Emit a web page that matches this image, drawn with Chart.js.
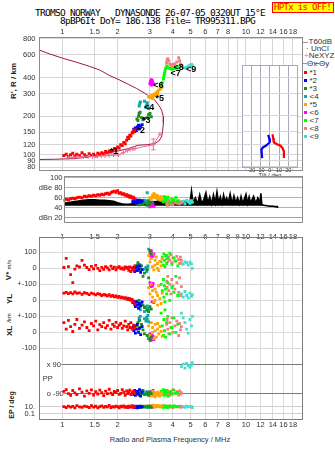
<!DOCTYPE html>
<html><head><meta charset="utf-8">
<script src="https://cdn.jsdelivr.net/npm/chart.js@4.4.1/dist/chart.umd.min.js"></script>
<style>
html,body{margin:0;padding:0;background:#fff;}
body{width:335px;height:451px;position:relative;overflow:hidden;font-family:"Liberation Sans",Arial,sans-serif;}
canvas{position:absolute;left:0;top:0;}
.t{position:absolute;white-space:pre;color:#333;line-height:9px;font-size:7.5px;}
.mono{font-family:"DejaVu Sans Mono",monospace;font-size:9.5px;letter-spacing:-0.72px;color:#000;}
.rot{transform:translate(-50%,-50%) rotate(-90deg);font-weight:bold;font-size:8px;color:#222;}
.lgt{font-size:8px;color:#333;}
.box{position:absolute;}
</style></head><body>
<div class="t mono" style="left:35px;top:8px">TROMSO NORWAY   DYNASONDE 26-07-05 0320UT 15°E</div>
<div class="t mono" style="left:60px;top:16px">8pBP6It DoY= 186.138 File= TR995311.BPG</div>
<div class="t mono" style="left:271.5px;top:1.5px;width:60px;height:9px;border:1px solid #ff0000;background:#ffff00;color:#ff0000;font-size:9px;letter-spacing:-0.67px;text-align:center;line-height:9px">HPTx is OFF!</div>

<div class="t rot" style="left:13px;top:81px">R', R / km</div>
<div class="t rot" style="left:9px;top:270px">V* <span style="font-size:6px;font-weight:normal">m/s</span></div>
<div class="t rot" style="left:9px;top:299px">YL</div>
<div class="t rot" style="left:9px;top:318px;font-size:6px;font-weight:normal">/km</div>
<div class="t rot" style="left:9px;top:331px">XL</div>
<div class="t rot" style="left:11px;top:405px;font-size:7px">EP / deg</div>
<div class="t" style="left:170px;top:434.6px;transform:translateX(-50%);font-size:7.5px">Radio and Plasma Frequency / MHz</div>
<div class="t" style="left:270px;top:171.6px;transform:translateX(-50%);font-size:6px;line-height:7px">Tilt / deg</div>
<div id="legend"></div>

<script>
// ---------- axis ticks ----------
const FREQ_TICKS = [1, 1.5, 2, 3, 4, 5, 6, 7, 8, 9, 10, 12, 14, 16, 18];
const FREQ_LABELS_EDGE = ['1', '1.5', '2', '3', '4', '5', '6', '7', '8', '', '10', '12', '14', '16', '18'];
const FREQ_LABELS_MID = ['1', '1.5', '2', '3', '4', '5', '6', '7', '8', '9', '10', '12', '14', '16', '18'];
const HEIGHT_TICKS = [80, 90, 100, 120, 150, 200, 300, 400, 600, 800];
const DBE_TICKS = [100, 80, 60, 40, 20];
const DBE_LABELS = ['100', 'dBe 80', '60', '40', 'dBn 20'];
const TILT_TICKS = [-20, -10, 0, 10, 20];
const V_TICKS = [100, 0], V_LABELS = ['100', '0'];
const YL_TICKS = [100, 0], YL_LABELS = ['+-100', '0'];
const XL_TICKS = [100, 0, -100], XL_LABELS = ['+-100', '0', '-100'];
const POL_TICKS = [90, -90], POL_LABELS = ['x 90', 'o -90'];
const PP_TICKS = [0], PP_LABELS = ['PP'];
const EP_TICKS = [10, 0.1], EP_LABELS = ['10.', '0.1'];

// ---------- profile & NeXYZ ----------
const PROFILE_F = [0.749,0.85,1.01,1.2,1.4,1.6,1.82,2.06,2.3,2.54,2.82,3.0,3.19,3.4,3.47,3.55,3.55,3.52,3.47,3.35,3.19,2.9,2.59,2.29,2.0,1.71,1.39,1.17,0.91,0.749];
const PROFILE_H = [656,612,565,526,490,458,413,382,353,329,301,283,267,236,223,198,176,155,138,128,122.6,120,118.8,112,107,102.4,96.3,93.5,92.4,92];
const NE_F = [1.08,1.15,1.22,1.3,1.38,1.46,1.55,1.63,1.71,1.8,1.9,2.02,2.15,2.26,2.34,2.42,2.49,3.13,3.4];
const NE_H = [96,96,96.5,96.5,97,97,97.5,98,98.5,99,99.5,100,104,108,110,111,112,120,145];
const NE_ERR_F = [3.13, 3.13];
const NE_ERR_H = [109.5, 133];

// ---------- tilt inset ----------
const TILT_RED_T = [2.9,3.6,4.3,7.2,11.6,13.8,15.2,15.2];
const TILT_RED_H = [144,134,124.5,121,117,112,106,93.7];
const TILT_BLUE_T = [-1.8,-0.7,0,-4.3,-7.2,-9.1,-8.3];
const TILT_BLUE_H = [142.5,134,124.5,117,114,109.5,93.7];

// ---------- echoes ----------
const ECHO_NAMES = ['*1','*2','*3','<4','*5','<6','<7','<8','<9'];
const ECHO_COLORS = ['#ff0000','#0000ff','#1e8c1e','#10a8a8','#ffa500','#ff00ff','#00ff00','#f08080','#40e0d0'];
const LABEL_F = [1.91,2.67,2.86,2.97,3.39,3.33,4.14,4.30,5.02];
const LABEL_H = [107,155,185,235,276,345,429,483,464];

const FREQ = [
  [1.02,1.05,1.08,1.11,1.14,1.17,1.2,1.24,1.28,1.32,1.36,1.4,1.44,1.48,1.52,1.56,1.6,1.64,1.68,1.72,1.76,1.8,1.84,1.88,1.92,1.96,2.0,2.04,2.08,2.12,2.16,2.2,2.24,2.27,2.3,2.33,2.36,2.4,2.44,2.48],
  [2.42,2.45,2.48,2.5,2.53,2.56,2.6,2.63,2.67,2.72],
  [2.55,2.58,2.6,2.62,2.65,2.7,2.75,2.8,2.9,2.95,3.0,3.05],
  [2.62,2.64,2.66,2.8,2.85,2.88,2.9,2.92,2.95],
  [2.95,3.0,3.05,3.1,3.1,3.15,3.2,3.2,3.25,3.3,3.3,3.35,3.4,3.45,3.5],
  [3.0,3.02,3.05,3.08,3.1,3.12,3.15,3.05],
  [3.45,3.5,3.55,3.57,3.6,3.62,3.65,3.7,3.75,3.85,3.95,4.05,4.15,4.25],
  [3.7,3.72,3.75,3.8,3.85,3.9,3.95,4.0,4.1,4.2,4.3,4.35,4.4,4.45],
  [4.45,4.55,4.65,4.75,4.85,4.95,5.05,5.1]
];
const HEIGHT = [
  [99,101,97,100,103,98,101,99,104,100,97,102,99,101,98,103,101,104,102,106,104,107,105,108,112,110,115,113,120,118,125,122,130,137,134,142,140,148,152,156],
  [150,158,153,162,155,165,170,160,168,172],
  [190,185,200,210,215,195,188,192,195,205,210,198],
  [240,250,258,262,235,245,255,238,230],
  [285,280,290,275,283,295,288,300,305,298,310,318,325,330,340],
  [360,375,385,380,370,360,355,350],
  [345,365,390,410,430,450,470,490,480,470,465,470,475,480],
  [520,545,560,540,510,500,480,505,510,530,570,540,510,495],
  [490,480,475,480,490,500,505,495]
];
const DBE = [
  [55,57,56,58,59,58,60,61,60,63,62,64,63,65,64,66,65,67,66,68,69,67,70,72,73,71,74,69,70,67,68,65,66,63,64,61,63,60,61,58],
  [52,55,53,56,54,50,55,53,51,54],
  [50,48,52,46,55,53,47,50,45,52,48,50],
  [50,52,48,55,53,50,70,54,51],
  [55,60,58,65,62,68,60,66,63,58,64,60,56,62,58],
  [42,45,48,44,50,46,43,47],
  [55,58,52,60,62,56,54,59,61,50,57,55,60,53],
  [48,52,45,55,50,47,53,46,51,49,54,48,52,50],
  [50,53,48,55,52,49,54,51]
];
const VSTAR = [
  [5,62,10,-40,-90,-5,15,8,50,20,5,-8,12,-3,18,0,-15,6,-6,10,3,-10,14,-2,7,-9,4,11,-4,2,-7,9,-1,5,-12,8,-20,3,-6,15],
  [-10,5,-20,0,10,-15,-5,15,-25,-8],
  [20,35,10,25,0,15,-50,-30,-10,-60,110,90],
  [10,-15,20,-5,5,-20,0,15,120],
  [80,40,60,10,90,-10,50,20,70,0,30,-15,45,15,60],
  [100,85,70,95,80,75,90,110],
  [40,70,20,90,50,10,80,30,60,95,25,65,45,15],
  [60,80,40,70,50,85,35,65,45,75,55,30,70,50],
  [30,25,40,35,20,38,28,0]
];
const YLOC = [
  [45,50,42,48,40,52,44,46,38,47,43,36,45,40,34,42,38,30,36,33,28,35,25,30,22,27,18,24,15,20,12,16,8,14,5,10,0,6,-10,-25],
  [-15,-5,-25,-40,-10,-30,-50,-20,-35,-10],
  [-5,-15,-25,0,-35,-20,-30,-45,-60,-70,-40,-55],
  [-30,-45,-60,-70,-40,-55,-35,-65,-50],
  [80,40,100,20,60,-10,70,0,50,-30,30,90,10,-20,45],
  [110,95,100,-10,90,105,-15,85],
  [100,60,130,20,90,-10,70,40,110,0,80,50,150,30],
  [120,80,150,60,100,40,130,90,70,110,50,140,30,85],
  [40,20,55,30,15,45,25,35]
];
const XLOC = [
  [60,20,75,35,5,50,80,25,45,65,30,10,55,40,70,15,48,35,60,28,42,75,20,50,38,62,30,45,55,25,40,70,35,15,50,30,60,20,45,30],
  [30,10,40,-5,20,50,0,25,-15,35],
  [40,60,20,75,30,50,15,-10,-20,-40,-50,-30],
  [90,75,100,85,70,95,80,105,65],
  [40,-20,60,0,30,-40,50,10,-30,20,55,-10,35,5,-25],
  [-10,-30,-50,-20,-40,-25,-45,-35],
  [120,40,-20,80,10,140,-30,60,100,-10,30,90,0,50],
  [50,80,20,-10,60,30,90,0,40,70,-20,55,15,35],
  [120,90,60,20,-5,80,40,100]
];
const POLAR = [
  [-75,-65,-90,-100,-70,-85,-95,-60,-80,-105,-72,-88,-66,-98,-78,-92,-68,-84,-102,-74,-90,-62,-86,-96,-76,-82,-70,-94,-88,-64,-80,-100,-72,-90,-78,-68,-95,-84,-74,-88],
  [-80,-95,-70,-100,-85,-75,-90,-65,-105,-80],
  [-85,-95,-75,-100,-80,-90,-70,-95,-85,-100,-80,-90],
  [-75,-85,-70,-90,-80,-95,-78,-88,-82],
  [-95,-80,-105,-90,-75,-100,-85,-110,-95,-80,-100,-90,-105,-85,-95],
  [-80,-90,-75,-95,-85,-70,-100,-88],
  [-75,-90,-65,-100,-80,-95,-70,-85,-105,-78,-92,-68,-88,-82],
  [-85,-70,-95,-80,-100,-75,-90,-65,-88,-78,-98,-72,-92,-84],
  [80,95,70,100,85,75,90,104]
];
const EPS = [
  [10,6,15,8,12,5,20,9,7,14,11,6,18,8,13,5,10,16,7,12,9,22,6,11,8,15,10,5,13,9,17,7,11,6,14,8,10,19,7,12],
  [8,12,6,15,9,5,11,7,13,10],
  [10,7,14,9,12,6,11,8,15,9,12,7],
  [9,12,7,14,10,8,11,6,13],
  [12,20,9,15,25,11,18,8,14,22,10,16,9,13,19],
  [12,9,15,10,13,8,11,14],
  [9,14,7,12,18,8,11,15,6,13,10,16,9,12],
  [10,7,13,9,16,8,12,6,14,10,11,8,15,9],
  [8,11,7,13,9,12,10,6]
];

// ---------- black amplitude trace (dBe panel) ----------
const BLACK_F = [1.02,1.1,1.2,1.3,1.4,1.5,1.6,1.7,1.8,1.9,2.0,2.1,2.2,2.3,2.4,2.5,2.6,2.7,2.8,2.9,3.0,3.2,3.4,3.6,3.8,4.0,4.2,4.4,4.6,4.8,4.95,5.05,5.15,5.3,5.45,5.6,5.75,5.9,6.05,6.2,6.35,6.5,6.65,6.8,6.95,7.1,7.25,7.4,7.55,7.7,7.85,8.0,8.2,8.4,8.6,8.8,9.0,9.2,9.4,9.6,9.8,10.0,10.2,10.4,10.6,10.8,11.0,11.3,11.6,11.9,12.05,12.2,12.5,13.0,13.5,14.0,14.5,15.0];
const BLACK_DB = [49,51,53,55,56,56,55,55,54,53,50,48,47,47,48,50,52,53,51,54,53,52,54,51,53,50,52,49,53,50,50,74,50,60,48,66,49,57,70,50,62,48,66,50,72,50,62,49,66,52,60,50,68,49,64,50,60,48,63,49,58,67,49,62,50,57,63,49,60,50,69,47,45,44,43,43,42,41];

// ================= rendering =================
// tick labels sit in the page margin outside the zero-width axis boxes: do not clip them
Chart.Scale.prototype._computeLabelArea = function () { return undefined; };
const FONT = 'Liberation Sans';
Chart.defaults.font.family = FONT;
Chart.defaults.font.size = 7.5;
Chart.defaults.color = '#333';
const PINK = '#e87090';
const W = 335, H = 451;
// panel rectangles (left, top, right, bottom) in page pixels
const P_TOP = [39.3, 36.7, 302, 170];
const P_INSET = [241.7, 65, 297.3, 167.3];
const P_DBE = [63.5, 175.7, 302, 222.3];
const P_LOW = [39.3, 236.7, 302, 419.3];
const padOf = r => ({left: r[0], top: r[1], right: W - r[2], bottom: H - r[3]});

function mkCanvas() { const c = document.createElement('canvas'); c.width = W; c.height = H; document.body.appendChild(c); return c; }
const fixedTicks = vals => s => { s.ticks = vals.map(v => ({value: v})); };
const pts = (xs, ys) => xs.map((x, i) => ({x: x, y: ys[i]}));

const framePlugin = {
  id: 'frame',
  beforeDraw(chart, args, o) {
    if (!o.bg) return;
    const a = chart.chartArea, c = chart.ctx;
    c.save(); c.fillStyle = o.bg; c.fillRect(a.left, a.top, a.right - a.left, a.bottom - a.top); c.restore();
  },
  afterDraw(chart, args, o) {
    const a = chart.chartArea, c = chart.ctx;
    c.save(); c.strokeStyle = o.color || '#888'; c.lineWidth = 1;
    const l = Math.round(a.left), t = Math.round(a.top), r = Math.round(a.right), b = Math.round(a.bottom);
    c.strokeRect(l + 0.5, t + 0.5, r - l, b - t); c.restore();
  }
};
const echoLabelPlugin = {
  id: 'echoLabels',
  afterDatasetsDraw(chart) {
    const c = chart.ctx, xs = chart.scales.x, ys = chart.scales.y;
    c.save(); c.font = 'bold 9px ' + FONT; c.fillStyle = '#000'; c.textAlign = 'center'; c.textBaseline = 'middle';
    ECHO_NAMES.forEach((n, i) => c.fillText(n, xs.getPixelForValue(LABEL_F[i]), ys.getPixelForValue(LABEL_H[i])));
    c.restore();
  }
};

function xAxis(type, min, max, pos, ticks, labels, pad, grid, font) {
  return {
    type: type, position: pos, min: min, max: max, bounds: 'data',
    afterFit: s => { s.height = 0; }, afterBuildTicks: fixedTicks(ticks),
    ticks: {autoSkip: false, maxRotation: 0, minRotation: 0, padding: pad, display: labels !== null,
            callback: (v, i) => labels ? labels[i] : '', color: '#333', font: {size: font || 7.5}},
    grid: grid ? Object.assign({drawTicks: false}, grid) : {display: false},
    border: {display: false}
  };
}
function yAxis(type, min, max, ticks, labels, pad, grid, extraTicks) {
  return {
    type: type, position: 'left', min: min, max: max, bounds: 'data',
    afterFit: s => { s.width = 0; }, afterBuildTicks: fixedTicks(ticks),
    ticks: Object.assign({autoSkip: false, padding: pad, display: labels !== null,
            callback: (v, i) => labels ? labels[i] : '', color: '#333', font: {size: 7.5}}, extraTicks || {}),
    grid: grid ? Object.assign({drawTicks: false}, grid) : {display: false},
    border: {display: false}
  };
}
const baseOpts = (rect, frameOpts, scales) => ({
  responsive: false, animation: false, events: [],
  layout: {padding: padOf(rect)},
  plugins: {legend: {display: false}, tooltip: {enabled: false}, frame: frameOpts},
  scales: scales
});
const X_MIN = 0.7494, X_MAX = 20.18, X_MIN_DBE = 1.0152;

// ---- top height panel ----
const topSets = [];
FREQ.forEach((f, k) => topSets.push({data: pts(f, HEIGHT[k]), backgroundColor: ECHO_COLORS[k], pointStyle: 'rect', pointRadius: 2.1, pointBorderWidth: 0, order: 3}));
topSets.push({data: pts(NE_F, NE_H), showLine: true, borderColor: PINK, borderWidth: 1, pointStyle: 'cross', pointRadius: 2.2, pointBorderColor: PINK, pointBorderWidth: 1, order: 2});
topSets.push({data: pts(NE_ERR_F, NE_ERR_H), showLine: true, borderColor: PINK, borderWidth: 1, pointStyle: 'line', pointRadius: 2.2, pointBorderColor: PINK, pointBorderWidth: 1, order: 2});
topSets.push({data: pts(PROFILE_F, PROFILE_H), showLine: true, borderColor: '#a3154a', borderWidth: 1, pointRadius: 0, order: 4});
new Chart(mkCanvas(), {
  type: 'scatter', data: {datasets: topSets},
  options: baseOpts(P_TOP, {color: '#8c8c8c'}, {
    x: xAxis('logarithmic', X_MIN, X_MAX, 'top', FREQ_TICKS, FREQ_LABELS_EDGE, 0, {color: '#d6d6d6'}),
    y: yAxis('logarithmic', 76.2, 833, HEIGHT_TICKS, HEIGHT_TICKS.map(String), 3.8, {color: '#d6d6d6'})
  }),
  plugins: [framePlugin, echoLabelPlugin]
});

// ---- tilt inset ----
new Chart(mkCanvas(), {
  type: 'scatter',
  data: {datasets: [
    {data: pts(TILT_RED_T, TILT_RED_H), showLine: true, borderColor: '#ff0000', borderWidth: 2.2, pointRadius: 0},
    {data: pts(TILT_BLUE_T, TILT_BLUE_H), showLine: true, borderColor: '#0000ff', borderWidth: 2.2, pointRadius: 0}
  ]},
  options: baseOpts(P_INSET, {color: '#a8a8c4', bg: '#ffffff'}, {
    x: xAxis('linear', -30.4, 29.7, 'bottom', TILT_TICKS, TILT_TICKS.map(String), -0.6, {color: '#a8a8bc'}, 5.5),
    y: yAxis('logarithmic', 79.4, 501, HEIGHT_TICKS.slice(0, 8), null, 0, {color: '#d6d6d6'})
  }),
  plugins: [framePlugin]
});

// ---- dBe amplitude panel ----
const dbSets = [];
FREQ.forEach((f, k) => dbSets.push({data: pts(f, DBE[k]), backgroundColor: ECHO_COLORS[k], pointStyle: 'rect', pointRadius: 2.1, pointBorderWidth: 0, order: 1}));
dbSets.push({type: 'line', data: pts(BLACK_F, BLACK_DB), borderColor: '#000', backgroundColor: '#000', borderWidth: 1.5, pointRadius: 0, tension: 0, fill: {value: 44}, order: 5});
new Chart(mkCanvas(), {
  type: 'scatter', data: {datasets: dbSets},
  options: baseOpts(P_DBE, {color: '#8c8c8c'}, {
    x: xAxis('logarithmic', X_MIN_DBE, X_MAX, 'bottom', FREQ_TICKS, FREQ_LABELS_MID, 2.4, null),
    y: yAxis('linear', 11.5, 103.6, DBE_TICKS, DBE_LABELS, 1,
             {color: c => (c.tick && c.tick.value === 20) ? '#9c9ce0' : '#b4b4b4'})
  }),
  plugins: [framePlugin]
});

// ---- lower panel: V*, YL, XL, polarization, EP ----
const lowSets = [];
const LOW_SERIES = [[VSTAR, 'yV'], [YLOC, 'yYL'], [XLOC, 'yXL'], [POLAR, 'yPol'], [EPS, 'yEP']];
FREQ.forEach((f, k) => LOW_SERIES.forEach(([arr, id]) => lowSets.push({
  data: pts(f, arr[k]), yAxisID: id, backgroundColor: ECHO_COLORS[k], pointStyle: 'rect', pointRadius: 2.0, pointBorderWidth: 0
})));
const POL_BACKDROP = {mirror: true, showLabelBackdrop: true, backdropColor: '#ffffff',
                      backdropPadding: {left: 7.5, right: 0.6, top: 1, bottom: 1}};
new Chart(mkCanvas(), {
  type: 'scatter', data: {datasets: lowSets},
  options: baseOpts(P_LOW, {color: '#7c7c7c'}, {
    x: xAxis('logarithmic', X_MIN, X_MAX, 'bottom', FREQ_TICKS, FREQ_LABELS_EDGE, 1.4, {color: '#dadada'}),
    yV: yAxis('linear', -943.75, 197.5, V_TICKS, V_LABELS, 2.6, {color: '#d8d8d8'}),
    yYL: yAxis('linear', -743.75, 397.5, YL_TICKS, YL_LABELS, 2.6, {color: '#d8d8d8'}),
    yXL: yAxis('linear', -543.75, 597.5, XL_TICKS, XL_LABELS, 2.6, {color: '#d8d8d8'}),
    yPol: yAxis('linear', -250.6, 894.7, POL_TICKS, POL_LABELS, 7.4, {color: '#7a7a7a'}, POL_BACKDROP),
    yPP: yAxis('linear', -250.6, 894.7, PP_TICKS, PP_LABELS, 3.4, null, {mirror: true}),
    yEP: yAxis('logarithmic', 0.00353, 3.76e47, EP_TICKS, EP_LABELS, 4.3, {color: '#cfcfcf'})
  }),
  plugins: [framePlugin]
});

// ---- legend (right side) ----
(function () {
  const L = document.getElementById('legend');
  function add(html, x, y, cls) { const d = document.createElement('div'); d.className = cls || 't lgt'; d.innerHTML = html; d.style.left = x + 'px'; d.style.top = (y - 4.4) + 'px'; L.appendChild(d); return d; }
  function bar(x, y, w, h, col) { const d = document.createElement('div'); d.className = 'box'; Object.assign(d.style, {left: x + 'px', top: y + 'px', width: w + 'px', height: h + 'px', background: col}); L.appendChild(d); }
  bar(303, 41.5, 5, 1, '#9a9a9a'); add('T60dB', 308.5, 41.7);
  add('· UnCl', 306, 48.3);
  add('<span style="color:' + PINK + '">+</span>NeXYZ', 304, 55);
  bar(303, 63, 4, 1, PINK); add('Θx', 307, 63.3); bar(314, 63, 5, 1, '#6060ff'); add('Θy', 319, 63.3);
  ECHO_NAMES.forEach((n, k) => {
    const y = 72.7 + 8 * k;
    bar(303.5, y - 1.5, 3, 3, ECHO_COLORS[k]);
    add(n, 309.5, y);
  });
})();
</script>
</body></html>
